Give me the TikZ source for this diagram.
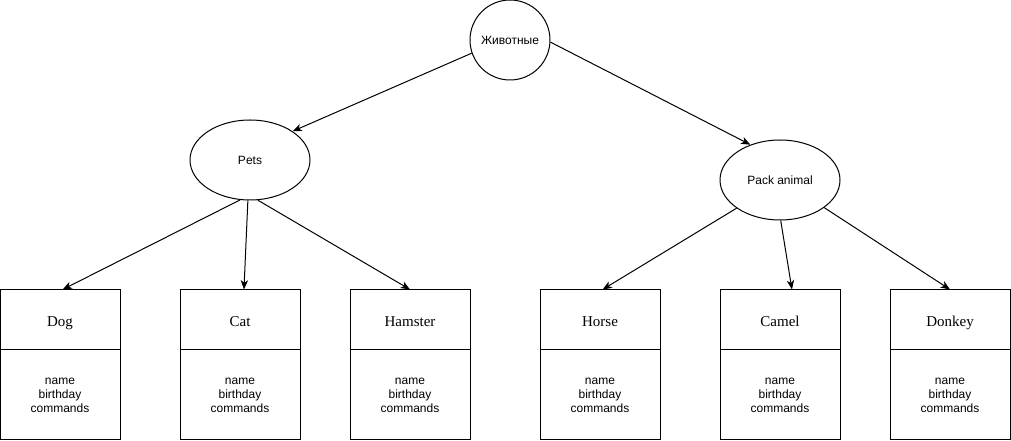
\documentclass[tikz,border=0pt]{standalone}
\usepackage{fontspec}
\setmainfont{Liberation Serif}
\setsansfont{Liberation Sans}
\usetikzlibrary{shapes.geometric,arrows.meta,calc}
\begin{document}
\begin{tikzpicture}[x=0.75pt,y=-0.75pt,
  every path/.style={line width=0.75pt},
  roundnode/.style={draw,circle,minimum size=60pt,inner sep=0pt,font=\sffamily\fontsize{9pt}{10.5pt}\selectfont},
  groupnode/.style={draw,ellipse,minimum width=90pt,minimum height=60pt,inner sep=0pt,font=\sffamily\fontsize{9pt}{10.5pt}\selectfont},
  classbox/.style={draw,rectangle,minimum width=90pt,minimum height=112.5pt,inner sep=0pt},
  titletext/.style={font=\rmfamily\fontsize{11.25pt}{13pt}\selectfont,inner sep=0pt,anchor=base},
  bodytext/.style={font=\sffamily\fontsize{9pt}{10.5pt}\selectfont,align=center,inner sep=0pt},
  link/.style={-{Stealth[length=7pt,width=5.5pt,inset=2pt]}}
]
\useasboundingbox (0,0) rectangle (1011,441);
\node[roundnode] (root) at (510,40) {Животные};
\node[groupnode] (pets) at (250,160) {Pets};
\node[groupnode] (pack) at (780,180) {Pack animal};

\foreach \nm/\lbl/\cx in {dog/Dog/60, cat/Cat/240, hamster/Hamster/410, horse/Horse/600, camel/Camel/780, donkey/Donkey/950}{
  \node[classbox] (\nm) at (\cx,365) {};
  \node[titletext] (\nm t) at (\cx,326.5) {\lbl};
  \node[bodytext] (\nm b) at (\cx,395.5) {name\\birthday\\commands};
  \coordinate (\nm l) at ($(\nm.north west)+(0,60)$);
  \coordinate (\nm r) at ($(\nm.north east)+(0,60)$);
  \draw (\nm l) -- (\nm r);
}

\draw[link] (root.199) -- (pets.34);
\draw[link] (root.-3) -- (pack.130);
\draw[link] (pets.256) -- (dog.88);
\draw[link] (pets.267) -- (cat.87.5);
\draw[link] (pets.281) -- (hamster.90);
\draw[link] (pack.213) -- (horse.88.5);
\draw[link] (pack.271.5) -- (camel.81);
\draw[link] (pack.-32.5) -- (donkey.90);
\end{tikzpicture}
\end{document}
